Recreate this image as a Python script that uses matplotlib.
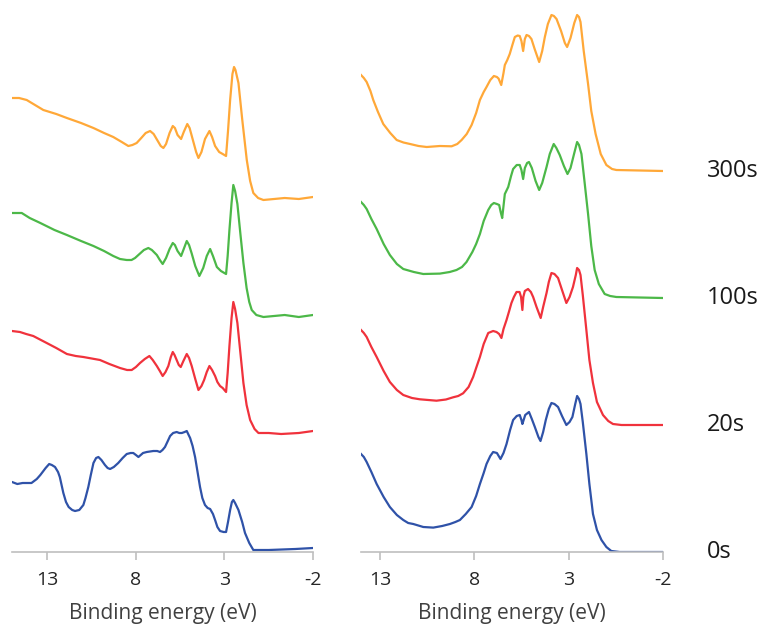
import numpy as np
import matplotlib
matplotlib.use("Agg")
import matplotlib.pyplot as plt
import matplotlib.transforms as mtransforms

plt.rcParams['font.family'] = ['Open Sans', 'DejaVu Sans']
plt.rcParams['axes.unicode_minus'] = False

# etiquetas y colores de las series (de abajo hacia arriba)
etiquetas = ['0s', '20s', '100s', '300s']
colores = ['#2F52A8', '#F0323C', '#4CB848', '#FFA838']

# desplazamientos verticales de cada curva
offsets_izq = [2, 119, 236, 353]
offsets_der = [0, 127, 254, 381]

# ---------------- panel izquierdo ----------------
E_izq_0s = [15, 14.7, 14.4, 13.9, 13.6, 13.4, 13.1, 12.9, 12.75, 12.57, 12.4, 12.3, 12.2, 12.1,
            11.95, 11.8, 11.6, 11.44, 11.2, 10.97, 10.85, 10.69, 10.55, 10.4, 10.25, 10.12, 9.95,
            9.75, 9.6, 9.46, 9.25, 9.0, 8.75, 8.52, 8.3, 8.15, 8.0, 7.86, 7.6, 7.39, 7.02, 6.8,
            6.64, 6.5, 6.36, 6.2, 6.07, 5.9, 5.7, 5.55, 5.41, 5.25, 5.13, 5.05, 4.94, 4.8, 4.66,
            4.52, 4.38, 4.25, 4.1, 3.95, 3.81, 3.65, 3.53, 3.4, 3.25, 3.05, 2.91, 2.8, 2.68, 2.58,
            2.5, 2.4, 2.21, 2.0, 1.84, 1.6, 1.37, 0.5, -1.0, -2]
I_izq_0s = [68, 66, 67, 67, 71, 75, 82, 86, 85, 83, 78, 73, 65, 57,
            48, 43, 40, 39, 40, 45, 52, 63, 75, 87, 92, 93, 90,
            85, 82, 81, 83, 87, 92, 96, 97, 97, 95, 93, 97, 98, 99, 99,
            98, 100, 103, 109, 114, 117, 118, 117, 117, 118, 119, 116, 112, 104, 93,
            78, 63, 52, 45, 42, 41, 36, 30, 23, 19, 18, 18, 28, 40, 48,
            50, 47, 40, 28, 17, 7, 0, 0, 1, 2]

E_izq_20s = [15, 14.55, 14.2, 13.8, 13.04, 12.5, 11.9, 11.4, 10.97, 10.5, 10.03, 9.5, 8.9, 8.5,
             8.24, 8.0, 7.77, 7.5, 7.24, 7.05, 6.82, 6.65, 6.49, 6.33, 6.17, 6.03, 5.92, 5.82,
             5.7, 5.58, 5.47, 5.32, 5.13, 5.0, 4.85, 4.65, 4.47, 4.3, 4.15, 4.0, 3.85, 3.7, 3.53,
             3.4, 3.25, 3.1, 2.91, 2.82, 2.72, 2.6, 2.5, 2.4, 2.27, 2.1, 1.93, 1.75, 1.55, 1.3,
             1.08, 0.5, -0.2, -1.2, -2]
I_izq_20s = [102, 101, 99, 97, 90, 85, 79, 77, 76, 74.5, 73, 69, 65, 63,
             63, 66, 70, 74, 77, 73, 67, 62, 57, 61, 67, 76, 81, 78,
             73, 68, 66, 72, 79, 75, 67, 54, 43, 47, 53, 61, 67, 63, 57,
             51, 47, 45, 41, 60, 87, 115, 131, 124, 110, 80, 50, 28, 13, 4,
             0, 0, -1, 0, 2]

E_izq_100s = [15, 14.45, 14.0, 13.4, 12.6, 11.9, 11.1, 10.4, 9.8, 9.28, 8.9, 8.52, 8.25, 8.05,
              7.8, 7.55, 7.3, 7.1, 6.82, 6.65, 6.49, 6.3, 6.1, 5.92, 5.8, 5.65, 5.45, 5.3, 5.13,
              5.0, 4.85, 4.65, 4.42, 4.2, 4.0, 3.81, 3.65, 3.43, 3.2, 2.91, 2.82, 2.72, 2.6, 2.5,
              2.4, 2.27, 2.1, 1.93, 1.75, 1.6, 1.46, 1.2, 0.8, -0.4, -1.2, -2]
I_izq_100s = [103, 103, 98, 93, 86, 81, 75, 70, 65, 60, 57, 56, 56, 58,
              62, 66, 68, 66, 61, 56, 52, 58, 67, 73, 71, 65, 60, 67, 75,
              71, 62.5, 50, 40, 48, 60, 67, 60, 49, 45, 42, 60, 86, 113, 131,
              125, 112, 82, 53, 28, 14, 6, 1, -1, 1, -1, 1]

E_izq_300s = [15, 14.6, 14.17, 13.7, 13.23, 12.5, 11.9, 11.1, 10.4, 9.8, 9.28, 8.8, 8.43, 8.2,
              7.96, 7.7, 7.45, 7.2, 7.0, 6.8, 6.6, 6.45, 6.3, 6.1, 5.92, 5.8, 5.65, 5.45, 5.3,
              5.1, 4.97, 4.8, 4.6, 4.47, 4.3, 4.1, 3.85, 3.7, 3.53, 3.3, 3.1, 2.91, 2.8, 2.68,
              2.55, 2.46, 2.38, 2.21, 2.0, 1.74, 1.55, 1.37, 1.1, 0.8, -0.4, -1.2, -2]
I_izq_300s = [101, 101, 99, 94, 89, 85, 81, 76, 71, 66, 62, 57, 53, 54,
              56, 61, 66, 68, 65, 59, 53, 51, 55, 66, 73, 71, 64, 60, 67,
              75, 71, 60, 47, 41, 47, 60, 68, 62, 53, 47, 45, 43, 68, 99,
              125, 132, 129, 116, 80, 39, 18, 6, 1, -1, 1, 0, 2]

# ---------------- panel derecho ----------------
E_der_0s = [14, 13.85, 13.7, 13.45, 13.17, 12.8, 12.47, 12.1, 11.76, 11.5, 11.23, 10.7, 10.17,
            9.7, 9.29, 9.0, 8.76, 8.45, 8.14, 7.9, 7.7, 7.5, 7.35, 7.15, 7.0, 6.8, 6.61, 6.45,
            6.29, 6.1, 5.94, 5.75, 5.59, 5.5, 5.45, 5.3, 5.1, 4.95, 4.79, 4.6, 4.49, 4.35, 4.21,
            4.05, 3.91, 3.75, 3.56, 3.35, 3.12, 2.95, 2.8, 2.65, 2.55, 2.45, 2.37, 2.25, 2.06,
            1.9, 1.71, 1.5, 1.26, 1.0, 0.74, 0.3, -2]
I_der_0s = [98, 95, 90, 80, 68, 55, 45, 37, 32, 29, 28, 25, 24.4,
            26, 28, 30, 32, 38, 45, 56, 68, 79, 88, 96, 100, 99, 93, 99,
            108, 122, 132, 136, 137, 132, 128, 137, 140, 133, 125, 115, 111, 120, 132,
            143, 149, 148, 145, 136, 127, 130, 135, 148, 156, 153, 148, 130, 98,
            68, 38, 22, 12, 5, 1, 0, 0]

E_der_20s = [14, 13.85, 13.7, 13.45, 13.17, 12.8, 12.47, 12.1, 11.76, 11.3, 10.88, 10.0, 9.5,
             9.12, 8.85, 8.59, 8.3, 8.06, 7.9, 7.7, 7.5, 7.26, 7.0, 6.82, 6.68, 6.56, 6.45, 6.29,
             6.15, 6.03, 5.9, 5.76, 5.6, 5.52, 5.45, 5.4, 5.32, 5.15, 5.0, 4.88, 4.7, 4.48, 4.35,
             4.17, 4.05, 3.91, 3.75, 3.56, 3.35, 3.12, 2.95, 2.77, 2.62, 2.55, 2.45, 2.37, 2.25,
             2.06, 1.9, 1.71, 1.5, 1.18, 0.9, 0.65, 0.2, -2]
I_der_20s = [95, 92, 88, 78, 68, 54, 43, 35, 30, 27, 25.7, 24.3, 25.5,
             27.7, 29, 31.7, 38, 48, 57, 68, 81, 92, 94, 93, 91, 87, 96, 105,
             114, 122, 128, 133, 133, 128, 115, 128, 134, 136, 133, 128, 118, 107, 118,
             132, 143, 152, 151, 147, 135, 122, 128, 138, 150, 157, 155, 150, 130,
             95, 65, 42, 23, 10, 4, 1, 0, 0]

E_der_100s = [14, 13.85, 13.7, 13.45, 13.17, 12.8, 12.47, 12.1, 11.76, 11.2, 10.7, 9.82, 9.3,
              8.94, 8.65, 8.41, 8.1, 7.9, 7.7, 7.5, 7.26, 7.1, 6.96, 6.8, 6.68, 6.6, 6.52, 6.45,
              6.38, 6.2, 6.05, 5.94, 5.75, 5.59, 5.5, 5.41, 5.32, 5.2, 5.1, 4.95, 4.75, 4.56, 4.4,
              4.17, 4.0, 3.79, 3.65, 3.47, 3.25, 3.06, 2.9, 2.7, 2.55, 2.45, 2.32, 2.15, 1.97,
              1.8, 1.62, 1.4, 1.09, 0.8, 0.47, -2]
I_der_100s = [96, 93, 89, 79, 69, 54, 43, 34, 29, 26, 24, 24.4, 26,
              28, 31, 36, 46, 54, 64, 77, 88, 93, 95, 94, 93, 86, 80, 92,
              104, 111, 122, 129, 133, 133, 128, 119, 130, 135, 136, 130, 117, 108, 115,
              131, 144, 154, 150, 143, 132, 124, 130, 145, 156, 153, 144, 115, 84,
              52, 28, 14, 4, 2, 1, 0]

E_der_300s = [14, 13.85, 13.7, 13.5, 13.35, 13.1, 12.82, 12.45, 12.11, 11.75, 11.4, 10.95, 10.52,
              9.82, 9.2, 8.9, 8.67, 8.4, 8.14, 7.9, 7.7, 7.5, 7.35, 7.15, 6.96, 6.8, 6.71, 6.57,
              6.45, 6.38, 6.25, 6.12, 5.98, 5.85, 5.7, 5.59, 5.5, 5.41, 5.32, 5.23, 5.1, 4.97, 4.8,
              4.56, 4.4, 4.26, 4.1, 3.91, 3.78, 3.64, 3.4, 3.2, 3.08, 2.9, 2.7, 2.55, 2.45, 2.37,
              2.2, 1.97, 1.8, 1.57, 1.3, 1.0, 0.7, 0.47, -2]
I_der_300s = [96, 93, 89, 80, 71, 59, 47, 38, 31, 28.5, 27, 25, 24,
              25, 24.7, 27, 31, 37, 46, 58, 71, 79, 84, 91, 95, 94, 92.4, 86,
              98, 106, 111, 117, 126, 134, 135.5, 135, 130, 120, 132, 136, 135, 132, 122,
              109, 120, 134, 147, 156, 155, 152, 140, 128, 124, 133, 148, 156, 154, 149,
              120, 87, 60, 37, 17, 6, 2, 1, 0]

izq = [(E_izq_0s, I_izq_0s), (E_izq_20s, I_izq_20s), (E_izq_100s, I_izq_100s), (E_izq_300s, I_izq_300s)]
der = [(E_der_0s, I_der_0s), (E_der_20s, I_der_20s), (E_der_100s, I_der_100s), (E_der_300s, I_der_300s)]

W, H = 767, 624
fig = plt.figure(figsize=(W / 100, H / 100), dpi=100)
ax1 = fig.add_axes([12 / W, (H - 552) / H, 301 / W, 552 / H])
ax2 = fig.add_axes([361 / W, (H - 552) / H, 302 / W, 552 / H])

gris = '#BFBFBF'
for ax, series, offs, xmax in [(ax1, izq, offsets_izq, 15), (ax2, der, offsets_der, 14)]:
    for (e, i), off, c in zip(series, offs, colores):
        ax.plot(e, np.array(i) + off, color=c, lw=1.6, solid_joinstyle='round')
    ax.set_xlim(xmax, -2)
    ax.set_ylim(0, 552)
    ax.set_xticks([13, 8, 3, -2])
    for s in ['top', 'right', 'left']:
        ax.spines[s].set_visible(False)
    ax.spines['bottom'].set_color(gris)
    ax.spines['bottom'].set_linewidth(1.2)
    ax.tick_params(axis='x', direction='out', length=6, width=1.2, color=gris,
                   labelsize=14, labelcolor='#262626', pad=8)
    ax.set_yticks([])
    ax.set_xlabel('Binding energy (eV)', fontsize=15, color='#404040')
    ax.xaxis.set_label_coords(0.5, -0.093)
    ax.patch.set_alpha(0)

# etiquetas de tiempo a la derecha
trans = mtransforms.blended_transform_factory(ax2.transAxes, ax2.transData)
for lab, off in zip(etiquetas, offsets_der):
    ax2.text(1.145, off, lab, transform=trans, ha='left', va='center',
             fontsize=17, color='#1a1a1a', clip_on=False)

fig.savefig('out.png', dpi=100)
